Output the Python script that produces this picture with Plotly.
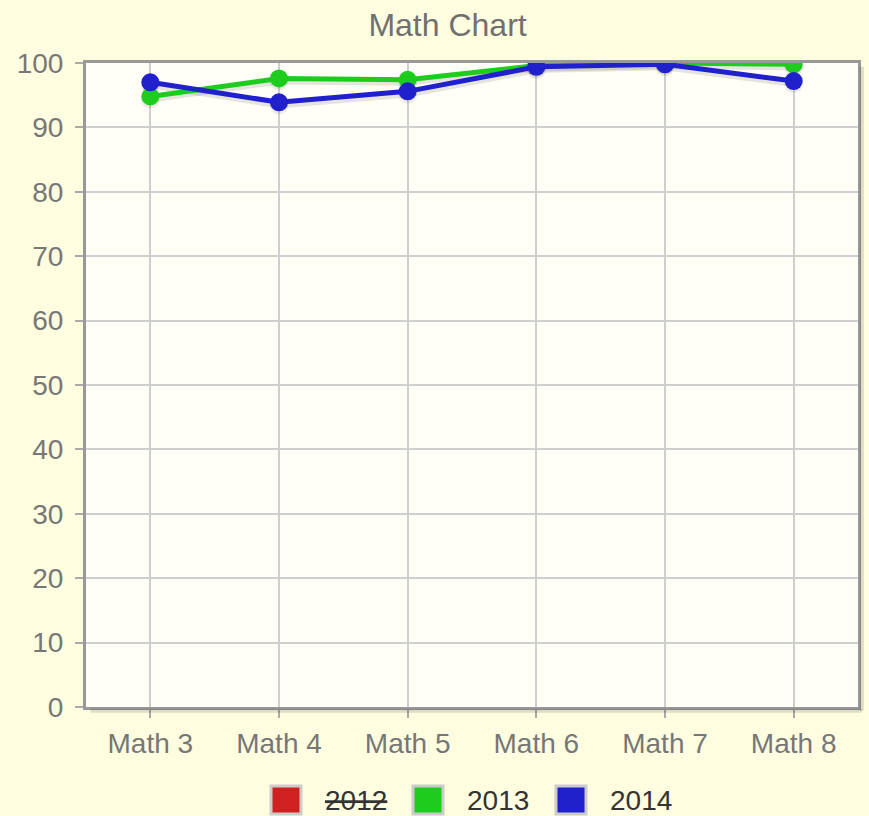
import plotly.graph_objects as go

categories = ["Math 3", "Math 4", "Math 5", "Math 6", "Math 7", "Math 8"]
scores_2013 = [94.8, 97.6, 97.4, 99.6, 100.0, 99.8]
scores_2014 = [97.0, 93.9, 95.6, 99.4, 99.8, 97.2]
y_ticks = [0, 10, 20, 30, 40, 50, 60, 70, 80, 90, 100]

series_names = ["2012", "2013", "2014"]
series_hidden = [True, False, False]   # 2012 is switched off in the legend
RED = "#D02020"
GREEN = "#1ECC1E"
BLUE = "#2020CC"
series_colors = [RED, GREEN, BLUE]

W, H = 869, 816
L, R, T, B = 86, 11, 63, 109
PW, PH = W - L - R, H - T - B


def px_to_paper(px, py):
    return (px - L) / PW, (H - B - py) / PH


fig = go.Figure()

# soft shadows under the lines, like the original renderer
for vals in (scores_2013, scores_2014):
    fig.add_trace(go.Scatter(x=categories, y=[v - 0.4 for v in vals], mode="lines+markers",
                             line=dict(color="rgba(0,0,0,0.10)", width=7),
                             marker=dict(size=19, color="rgba(0,0,0,0.08)"),
                             showlegend=False, hoverinfo="skip"))

fig.add_trace(go.Scatter(x=categories, y=scores_2013, mode="lines+markers", name="2013",
                         line=dict(color=GREEN, width=5), marker=dict(size=18, color=GREEN)))
fig.add_trace(go.Scatter(x=categories, y=scores_2014, mode="lines+markers", name="2014",
                         line=dict(color=BLUE, width=5), marker=dict(size=18, color=BLUE)))

# plot frame shadow (right and bottom)
fig.add_shape(type="line", xref="paper", yref="paper", x0=0.006, x1=1.005, y0=-0.006, y1=-0.006,
              line=dict(color="rgba(0,0,0,0.12)", width=4))
fig.add_shape(type="line", xref="paper", yref="paper", x0=1.005, x1=1.005, y0=-0.006, y1=0.994,
              line=dict(color="rgba(0,0,0,0.12)", width=4))

# legend like the original: bordered swatches + labels, row under the axis
leg_x = [271, 413, 556]
for i, (name, col, hidden) in enumerate(zip(series_names, series_colors, series_hidden)):
    x0, y0 = px_to_paper(leg_x[i], 786)
    x1, y1 = px_to_paper(leg_x[i] + 30, 814)
    fig.add_shape(type="rect", xref="paper", yref="paper", x0=x0, x1=x1, y0=y0, y1=y1,
                  fillcolor=col, line=dict(color="#cccccc", width=3))
    label = f"<span style='text-decoration:line-through'>{name}</span>" if hidden else name
    tx, ty = px_to_paper(leg_x[i] + 52, 800)
    fig.add_annotation(x=tx, y=ty, xref="paper", yref="paper", text=label, showarrow=False,
                       xanchor="left", yanchor="middle",
                       font=dict(size=28, color="#333333"))

fig.update_layout(
    width=W, height=H,
    paper_bgcolor="#FEFDE0",
    plot_bgcolor="#FFFEF7",
    margin=dict(l=L, r=R, t=T, b=B, autoexpand=False),
    title=dict(text="Math Chart", x=0.515, xanchor="center", y=0.97, yanchor="middle",
               font=dict(family="Liberation Sans, sans-serif", size=32, color="#707070")),
    font=dict(family="Liberation Sans, Arial, sans-serif", size=28, color="#777777"),
    showlegend=False,
)

fig.update_xaxes(showgrid=True, gridcolor="#cfcfcf", gridwidth=1.5,
                 showline=True, linecolor="#999999", linewidth=3, mirror=True,
                 ticks="outside", ticklen=8, tickcolor="#aaaaaa", tickwidth=2,
                 ticklabelstandoff=1, range=[-0.5, 5.5], fixedrange=True)
fig.update_yaxes(range=[0, 100], tickvals=y_ticks, showgrid=True, gridcolor="#cfcfcf", gridwidth=1.5,
                 showline=True, linecolor="#999999", linewidth=3, mirror=True,
                 ticks="outside", ticklen=8, tickcolor="#aaaaaa", tickwidth=2,
                 ticklabelstandoff=6, zeroline=False, fixedrange=True)

fig.write_html("out.html", config={"displayModeBar": False},
               post_script="document.body.style.margin='0';")
